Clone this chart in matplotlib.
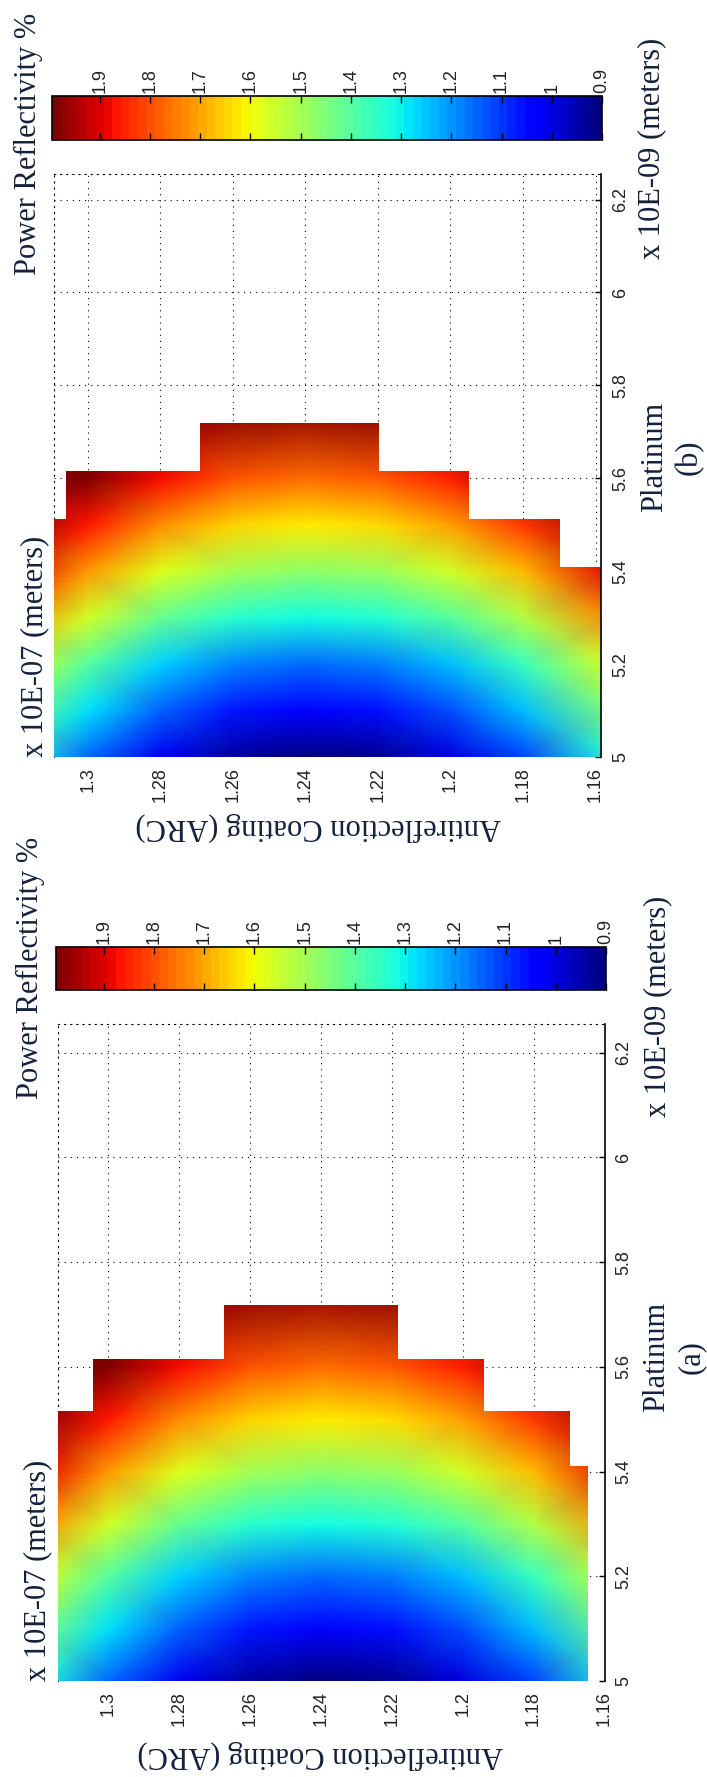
import numpy as np
import matplotlib
matplotlib.use('Agg')
import matplotlib.pyplot as plt
from matplotlib.colors import Normalize
from matplotlib.patches import Polygon
from matplotlib.cm import ScalarMappable

# reflectivity (%) at a coarse grid of nodes
arc_nodes = [1.155, 1.18, 1.20, 1.22, 1.24, 1.26, 1.28, 1.30, 1.32]   # x 10E-07 m
pt_nodes = [5.0, 5.1, 5.2, 5.3, 5.4, 5.5, 5.6, 5.75]                  # x 10E-09 m
refl = [
    [1.33, 1.11, 0.99, 0.92, 0.90, 0.93, 1.01, 1.15, 1.33],
    [1.46, 1.24, 1.12, 1.05, 1.03, 1.06, 1.14, 1.28, 1.46],
    [1.58, 1.36, 1.24, 1.17, 1.15, 1.18, 1.26, 1.40, 1.58],
    [1.74, 1.52, 1.40, 1.33, 1.31, 1.34, 1.42, 1.56, 1.74],
    [1.90, 1.68, 1.56, 1.49, 1.47, 1.50, 1.58, 1.72, 1.90],
    [2.05, 1.83, 1.71, 1.64, 1.62, 1.65, 1.73, 1.87, 2.05],
    [2.20, 1.98, 1.86, 1.79, 1.77, 1.80, 1.88, 2.02, 2.20],
    [2.41, 2.19, 2.07, 2.00, 1.98, 2.01, 2.09, 2.23, 2.41],
]

# valid region (stepped) per panel: ARC column edges and Pt top of each column
edges_a = [1.1646, 1.1696, 1.194, 1.2184, 1.2674, 1.3044, 1.3142]
tops_a = [5.41, 5.515, 5.616, 5.718, 5.616, 5.515]
edges_b = [1.1585, 1.1697, 1.195, 1.2196, 1.269, 1.306, 1.3093]
tops_b = [5.409, 5.512, 5.615, 5.718, 5.615, 5.512]

arc_lim_a = (1.3142, 1.1646)
arc_lim_b = (1.3093, 1.1585)
pt_lim = (5.0, 6.255)
c_lim = (0.9, 1.995)

arc_ticks = [1.16, 1.18, 1.2, 1.22, 1.24, 1.26, 1.28, 1.3]
arc_labels = ['1.16', '1.18', '1.2', '1.22', '1.24', '1.26', '1.28', '1.3']
pt_ticks = [5.0, 5.2, 5.4, 5.6, 5.8, 6.0, 6.2]
pt_labels = ['5', '5.2', '5.4', '5.6', '5.8', '6', '6.2']
cb_ticks = [0.9, 1.0, 1.1, 1.2, 1.3, 1.4, 1.5, 1.6, 1.7, 1.8, 1.9]
cb_labels = ['0.9', '1', '1.1', '1.2', '1.3', '1.4', '1.5', '1.6', '1.7', '1.8', '1.9']

W, H = 707, 1777
plt.rcParams['font.family'] = ['Liberation Sans', 'DejaVu Sans']
SERIF = ['Liberation Serif', 'DejaVu Serif']
TXT = '#14213d'
TICK = '#222222'
DOT = (0, (1, 4.5))

fig = plt.figure(figsize=(W / 100, H / 100), dpi=100)
norm = Normalize(*c_lim)


def box(l, t, r, b):
    return [l / W, 1 - b / H, (r - l) / W, (b - t) / H]


def px(x, y):
    return x / W, 1 - y / H


def label(x, y, s, rot, **kw):
    fig.text(*px(x, y), s, rotation=rot, family=SERIF, size=22, color=TXT, **kw)


def panel(ax_box, cb_box, xlim, edges, tops):
    ax = fig.add_axes(ax_box)
    X, Y = np.meshgrid(arc_nodes, pt_nodes)
    mesh = ax.pcolormesh(X, Y, np.array(refl), cmap='jet', norm=norm,
                         shading='gouraud', zorder=1)
    verts = [(edges[0], pt_nodes[0])]
    for i, top in enumerate(tops):
        verts += [(edges[i], top), (edges[i + 1], top)]
    verts.append((edges[-1], pt_nodes[0]))
    mesh.set_clip_path(Polygon(verts, closed=True, transform=ax.transData))

    ax.set_xlim(*xlim)
    ax.set_ylim(*pt_lim)
    ax.set_xticks(arc_ticks, arc_labels)
    ax.set_yticks(pt_ticks, pt_labels)
    ax.yaxis.tick_right()
    ax.tick_params(axis='x', length=0, pad=7, labelrotation=90,
                   labelsize=13, labelcolor=TICK)
    ax.tick_params(axis='y', direction='in', length=4, width=1, pad=8,
                   labelrotation=90, labelsize=13, labelcolor=TICK)
    for lab in ax.get_yticklabels():
        lab.set_va('center')
    ax.set_axisbelow(True)
    ax.grid(True, color='k', linestyle=DOT, linewidth=0.8)
    ax.spines['bottom'].set_visible(False)
    ax.spines['right'].set_linewidth(1.2)
    for s in ('left', 'top'):
        ax.spines[s].set_linestyle(DOT)
        ax.spines[s].set_linewidth(0.8)
        ax.spines[s].set_zorder(0.5)

    cax = fig.add_axes(cb_box)
    cb = fig.colorbar(ScalarMappable(norm=norm, cmap=plt.get_cmap('jet', 64)),
                      cax=cax, orientation='horizontal')
    cax.invert_xaxis()
    cb.set_ticks(cb_ticks, labels=cb_labels)
    cax.tick_params(axis='x', direction='in', length=5, width=1, top=True,
                    bottom=True, labeltop=True, labelbottom=False,
                    labelrotation=90, labelsize=13, pad=2, labelcolor=TICK)
    cb.outline.set_linewidth(1.2)
    return ax


# (b) upper panel
panel(box(54, 174, 601, 757), box(52, 96, 602, 140), arc_lim_b, edges_b, tops_b)
label(28, 144, 'Power Reflectivity %', 90, ha='center', va='center')
label(652, 148, 'x 10E-09 (meters)', 90, ha='center', va='center')
label(672, 457, 'Platinum\n(b)', 90, ha='center', va='center',
      multialignment='center', linespacing=1.25)
label(35, 757, 'x 10E-07 (meters)', 90, ha='center', va='bottom')
label(318, 827, 'Antireflection Coating (ARC)', 180, ha='center', va='center')

# (a) lower panel
panel(box(58, 1024, 604.5, 1681), box(56, 947, 606, 990), arc_lim_a, edges_a, tops_a)
label(30, 968, 'Power Reflectivity %', 90, ha='center', va='center')
label(658, 1006, 'x 10E-09 (meters)', 90, ha='center', va='center')
label(674, 1357, 'Platinum\n(a)', 90, ha='center', va='center',
      multialignment='center', linespacing=1.25)
label(38, 1681, 'x 10E-07 (meters)', 90, ha='center', va='bottom')
label(320, 1755, 'Antireflection Coating (ARC)', 180, ha='center', va='center')

fig.savefig('out.png', dpi=100)
